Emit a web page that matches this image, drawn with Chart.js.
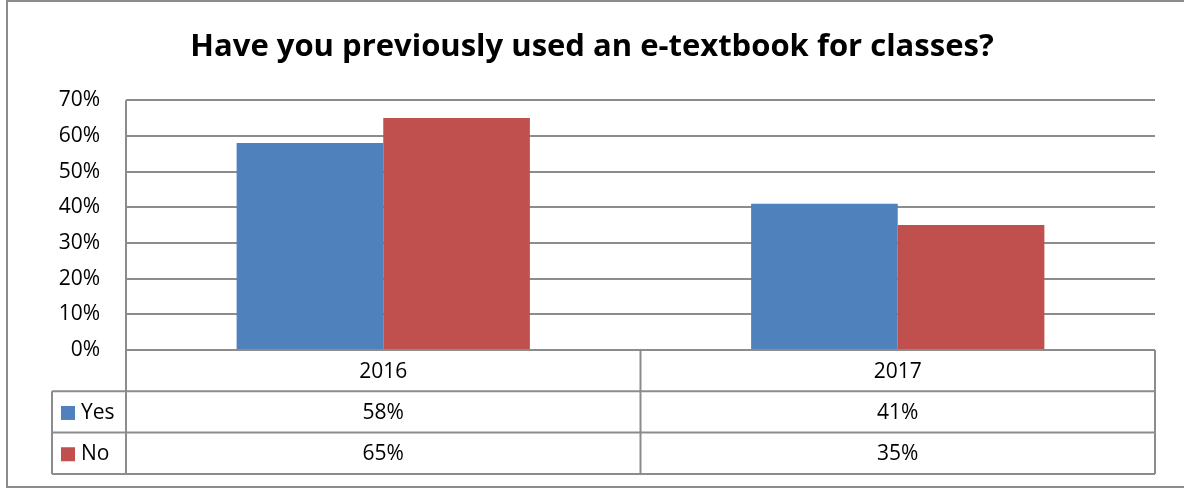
<!DOCTYPE html>
<html>
<head>
<meta charset="utf-8">
<script src="https://cdn.jsdelivr.net/npm/chart.js@4.4.0/dist/chart.umd.min.js"></script>
<style>
  html, body { margin: 0; padding: 0; background: #fff; }
  #wrap { width: 1184px; height: 488px; }
</style>
</head>
<body>
<div id="wrap"><canvas id="grafica" width="1184" height="488"></canvas></div>
<script>
const categorias = ["2016", "2017"];
const serieYes = [58, 41];
const serieNo = [65, 35];
const nombresSeries = ["Yes", "No"];
const coloresSeries = ["#4F81BD", "#C0504D"];
const titulo = "Have you previously used an e-textbook for classes?";

const FUENTE = "'Open Sans', sans-serif";
const GRIS = "#8c8c8c";

// tabla de datos debajo del grafico, usando la escala x
const tablaDatos = {
    id: "tablaDatos",
    afterDraw(chart) {
        const ctx = chart.ctx;
        const area = chart.chartArea;
        const xs = chart.scales.x;
        const filaH = 41.3;
        const top = area.bottom;
        const leyIzq = 52;
        const filas = [top, top + filaH, top + 2 * filaH, top + 3 * filaH];
        const medio = (xs.getPixelForTick(0) + xs.getPixelForTick(1)) / 2;

        ctx.save();
        ctx.strokeStyle = GRIS;
        ctx.lineWidth = 2;
        ctx.beginPath();
        // horizontales
        ctx.moveTo(area.left, filas[0]); ctx.lineTo(area.right, filas[0]);
        for (let i = 1; i < filas.length; i++) {
            ctx.moveTo(leyIzq, filas[i]); ctx.lineTo(area.right, filas[i]);
        }
        // verticales
        ctx.moveTo(area.left, area.top); ctx.lineTo(area.left, filas[3]);
        ctx.moveTo(medio, filas[0]); ctx.lineTo(medio, filas[3]);
        ctx.moveTo(area.right, filas[0]); ctx.lineTo(area.right, filas[3]);
        ctx.moveTo(leyIzq, filas[1]); ctx.lineTo(leyIzq, filas[3]);
        ctx.stroke();

        ctx.fillStyle = "#000";
        ctx.font = "21px " + FUENTE;
        ctx.textAlign = "center";
        ctx.textBaseline = "middle";
        categorias.forEach((c, i) => {
            const x = xs.getPixelForTick(i);
            ctx.fillText(c, x, (filas[0] + filas[1]) / 2 + 1);
        });
        chart.data.datasets.forEach((ds, j) => {
            const yc = (filas[j + 1] + filas[j + 2]) / 2 + 1;
            ds.data.forEach((v, i) => {
                ctx.fillStyle = "#000";
                ctx.textAlign = "center";
                ctx.fillText(v + "%", xs.getPixelForTick(i), yc);
            });
            ctx.fillStyle = ds.backgroundColor;
            ctx.fillRect(61, yc - 7, 14, 14);
            ctx.fillStyle = "#000";
            ctx.textAlign = "left";
            ctx.fillText(ds.label, 81, yc);
        });

        // marco exterior
        ctx.strokeStyle = GRIS;
        ctx.lineWidth = 2;
        ctx.strokeRect(7, 1, 1200, 486);
        ctx.restore();
    }
};

const ctx = document.getElementById("grafica").getContext("2d");
new Chart(ctx, {
    type: "bar",
    data: {
        labels: categorias,
        datasets: [
            { label: nombresSeries[0], data: serieYes, backgroundColor: coloresSeries[0] },
            { label: nombresSeries[1], data: serieNo, backgroundColor: coloresSeries[1] }
        ]
    },
    options: {
        responsive: false,
        animation: false,
        devicePixelRatio: 1,
        layout: { padding: { left: 29, right: 29, top: 0, bottom: 138 } },
        datasets: {
            bar: { categoryPercentage: 0.57, barPercentage: 1.0 }
        },
        plugins: {
            legend: { display: false },
            tooltip: { enabled: false },
            title: {
                display: true,
                text: titulo,
                color: "#000",
                font: { family: FUENTE, size: 31, weight: "bold" },
                padding: { top: 29, bottom: 34 }
            }
        },
        scales: {
            x: {
                display: false
            },
            y: {
                min: 0,
                max: 70,
                afterFit(scale) { scale.width = 97; },
                border: { display: false },
                grid: { color: GRIS, lineWidth: 2, drawTicks: false },
                ticks: {
                    stepSize: 10,
                    padding: 26,
                    color: "#000",
                    font: { family: FUENTE, size: 21 },
                    callback: v => v + "%"
                }
            }
        }
    },
    plugins: [tablaDatos]
});
</script>
</body>
</html>
